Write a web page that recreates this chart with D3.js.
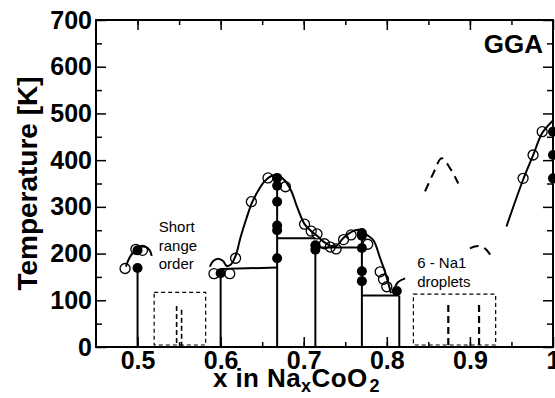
<!DOCTYPE html>
<html>
<head>
<meta charset="utf-8">
<script src="https://cdn.jsdelivr.net/npm/d3@7"></script>
<style>
  body { margin: 0; background: #fff; }
  svg { display: block; font-family: "Liberation Sans", Arial, sans-serif; }
</style>
</head>
<body>
<svg></svg>
<script>
// ticks
const xMajorTicks = [0.5, 0.6, 0.7, 0.8, 0.9, 1.0]
const xMinorTicks = [0.5, 0.55, 0.6, 0.65, 0.7, 0.75, 0.8, 0.85, 0.9, 0.95]
const yMajorTicks = [0, 100, 200, 300, 400, 500, 600, 700]
const yMinorTicks = [50, 150, 250, 350, 450, 550, 650]

// solid phase boundaries [x1, T1, x2, T2]
const phaseLines = [
    [0.5, 0, 0.5, 169],
    [0.6, 0, 0.6, 167],
    [0.668, 0, 0.668, 362],
    [0.714, 0, 0.714, 218],
    [0.770, 0, 0.770, 244],
    [0.815, 0, 0.815, 110],
    [0.6, 167, 0.668, 170],
    [0.668, 233, 0.714, 233],
    [0.714, 213, 0.770, 213],
    [0.770, 110, 0.815, 110]
]

// fitted transition curves
const curveLeft = [[0.486, 172], [0.490, 190], [0.496, 205], [0.503, 214], [0.510, 214], [0.515, 206], [0.517, 195]]
const curveMain = [
    [0.587, 172], [0.591, 184], [0.597, 189], [0.603, 184], [0.607, 174], [0.612, 176], [0.618, 195],
    [0.624, 235], [0.631, 275], [0.638, 310], [0.646, 337], [0.653, 355], [0.661, 366], [0.669, 367],
    [0.677, 357], [0.685, 334], [0.692, 300], [0.701, 263], [0.709, 248], [0.716, 238], [0.725, 224],
    [0.732, 217], [0.739, 216], [0.748, 234], [0.757, 246], [0.766, 251], [0.776, 240], [0.784, 228],
    [0.792, 190], [0.798, 160], [0.802, 135], [0.805, 115]
]
const curveHook = [[0.809, 124], [0.813, 138], [0.822, 147]]
const curveRight = [[0.944, 258], [0.964, 358], [0.976, 410], [0.987, 458], [1.0, 485]]

// dashed curves
const dashedA = [[0.846, 333], [0.856, 372], [0.866, 404], [0.876, 383], [0.886, 350]]
const dashedB = [[0.900, 211], [0.910, 216], [0.918, 211], [0.928, 188]]

// dashed boxes [x1, x2, Ttop]
const boxes = [[0.520, 0.582, 117], [0.832, 0.931, 113]]
// dashed sticks [x, Ttop, style]
const sticks = [[0.547, 88, 'thin'], [0.553, 80, 'thin'], [0.874, 90, 'thick'], [0.911, 90, 'thick']]

// data points
const openPoints = [
    [0.485, 168], [0.498, 209], [0.506, 207],
    [0.592, 157], [0.611, 157], [0.618, 190],
    [0.637, 311], [0.657, 362], [0.678, 343],
    [0.701, 263], [0.709, 248], [0.716, 242], [0.725, 221], [0.732, 214], [0.739, 210],
    [0.748, 230], [0.757, 240], [0.777, 220],
    [0.792, 161], [0.796, 145], [0.800, 129],
    [0.964, 361], [0.976, 411], [0.987, 461]
]
const filledPoints = [
    [0.5, 169], [0.5, 207],
    [0.6, 158],
    [0.668, 362], [0.668, 345], [0.668, 311], [0.668, 260], [0.668, 250], [0.668, 190],
    [0.714, 218], [0.714, 208],
    [0.770, 244], [0.770, 238], [0.770, 212], [0.770, 162], [0.770, 141],
    [0.812, 120],
    [1.0, 461], [1.0, 411], [1.0, 361]
]

const width = 555
const height = 398
const margin = { top: 20, right: 2, bottom: 51, left: 96 }
const innerWidth = width - margin.left - margin.right
const innerHeight = height - margin.top - margin.bottom

const xScale = d3.scaleLinear().domain([0.45, 1.0]).range([0, innerWidth])
const yScale = d3.scaleLinear().domain([0, 700]).range([innerHeight, 0])

const svg = d3.select('svg').attr('width', width).attr('height', height)
const g = svg.append('g').attr('transform', `translate(${margin.left}, ${margin.top})`)

const line = d3.line().x(d => xScale(d[0])).y(d => yScale(d[1])).curve(d3.curveCatmullRom.alpha(0.5))
const straight = d3.line().x(d => xScale(d[0])).y(d => yScale(d[1]))

// axes, ticks pointing inwards
const tickFont = g => g.selectAll('text')
    .style('font-size', '25px').style('font-weight', 'bold').style('fill', '#000')
const plain = g => { g.select('.domain').remove(); g.selectAll('line').attr('stroke-width', 1.5) }

g.append('g').attr('transform', `translate(0, ${innerHeight})`)
    .call(d3.axisBottom(xScale).tickValues(xMinorTicks).tickSize(-5).tickFormat(''))
    .call(plain)
g.append('g').attr('transform', `translate(0, ${innerHeight})`)
    .call(d3.axisBottom(xScale).tickValues(xMajorTicks).tickSize(-10).tickPadding(4)
        .tickFormat(d => d === 1 ? '1' : d3.format('.1f')(d)))
    .call(plain).call(tickFont)
g.append('g')
    .call(d3.axisTop(xScale).tickValues(xMinorTicks).tickSize(-5).tickFormat(''))
    .call(plain)
g.append('g')
    .call(d3.axisTop(xScale).tickValues(xMajorTicks).tickSize(-10).tickFormat(''))
    .call(plain)

g.append('g')
    .call(d3.axisLeft(yScale).tickValues(yMinorTicks).tickSize(-6).tickFormat(''))
    .call(plain)
g.append('g')
    .call(d3.axisLeft(yScale).tickValues(yMajorTicks).tickSize(-10).tickPadding(4))
    .call(plain).call(tickFont)
g.append('g').attr('transform', `translate(${innerWidth}, 0)`)
    .call(d3.axisRight(yScale).tickValues(yMinorTicks).tickSize(-6).tickFormat(''))
    .call(plain)
g.append('g').attr('transform', `translate(${innerWidth}, 0)`)
    .call(d3.axisRight(yScale).tickValues(yMajorTicks).tickSize(-10).tickFormat(''))
    .call(plain)

// frame
g.append('rect')
    .attr('width', innerWidth).attr('height', innerHeight)
    .attr('fill', 'none').attr('stroke', '#000').attr('stroke-width', 2)

// dashed boxes and sticks
g.selectAll('.box').data(boxes).enter().append('rect')
    .attr('class', 'box')
    .attr('x', d => xScale(d[0])).attr('y', d => yScale(d[2]))
    .attr('width', d => xScale(d[1]) - xScale(d[0]))
    .attr('height', d => yScale(0) - yScale(d[2]) - 2)
    .attr('fill', 'none').attr('stroke', '#000').attr('stroke-width', 1.2)
    .attr('stroke-dasharray', '4,3')

g.selectAll('.stick').data(sticks).enter().append('line')
    .attr('class', 'stick')
    .attr('x1', d => xScale(d[0])).attr('x2', d => xScale(d[0]))
    .attr('y1', d => yScale(d[1])).attr('y2', yScale(0))
    .attr('stroke', '#000')
    .attr('stroke-width', d => d[2] === 'thin' ? 1.6 : 2.2)
    .attr('stroke-dasharray', d => d[2] === 'thin' ? '5,3' : '7,4')

// dashed curves
g.selectAll('.dashed').data([dashedA, dashedB]).enter().append('path')
    .attr('class', 'dashed')
    .attr('d', line)
    .attr('fill', 'none').attr('stroke', '#000').attr('stroke-width', 2)
    .attr('stroke-dasharray', '9,6')

// phase boundaries
g.selectAll('.phase').data(phaseLines).enter().append('path')
    .attr('class', 'phase')
    .attr('d', d => straight([[d[0], d[1]], [d[2], d[3]]]))
    .attr('stroke', '#000').attr('stroke-width', 2)

// fitted curves
g.selectAll('.fit').data([curveLeft, curveMain, curveHook, curveRight]).enter().append('path')
    .attr('class', 'fit')
    .attr('d', line)
    .attr('fill', 'none').attr('stroke', '#000').attr('stroke-width', 2)

// points
g.selectAll('.open').data(openPoints).enter().append('circle')
    .attr('class', 'open')
    .attr('cx', d => xScale(d[0])).attr('cy', d => yScale(d[1])).attr('r', 5)
    .attr('fill', 'none').attr('stroke', '#000').attr('stroke-width', 1.3)
g.selectAll('.filled').data(filledPoints).enter().append('circle')
    .attr('class', 'filled')
    .attr('cx', d => xScale(d[0])).attr('cy', d => yScale(d[1])).attr('r', 5)
    .attr('fill', '#000')

// annotations
const note = (lines, x, y) => {
    const t = g.append('text').attr('x', xScale(x)).attr('y', yScale(y))
        .style('font-size', '15px').style('fill', '#000')
    lines.forEach((s, i) => t.append('tspan').attr('x', xScale(x)).attr('dy', i ? 18.5 : 0).text(s))
}
note(['Short', 'range', 'order'], 0.5255, 246)
note(['6 - Na1', 'droplets'], 0.8365, 169)

g.append('text')
    .attr('x', xScale(0.988)).attr('y', yScale(630))
    .attr('text-anchor', 'end')
    .style('font-size', '26px').style('font-weight', 'bold')
    .text('GGA')

// axis titles
const xTitle = svg.append('text')
    .attr('x', 213).attr('y', 387)
    .style('font-size', '26px').style('font-weight', 'bold')
    .style('letter-spacing', '0.4px')
xTitle.append('tspan').text('x in Na')
xTitle.append('tspan').attr('dy', 5).style('font-size', '18px').text('x')
xTitle.append('tspan').attr('dy', -5).text('CoO')
xTitle.append('tspan').attr('dy', 5).attr('dx', 2).style('font-size', '18px').text('2')

svg.append('text')
    .attr('transform', `translate(37, ${margin.top + innerHeight / 2}) rotate(-90)`)
    .attr('text-anchor', 'middle')
    .style('font-size', '28px').style('font-weight', 'bold')
    .text('Temperature [K]')
</script>
</body>
</html>
